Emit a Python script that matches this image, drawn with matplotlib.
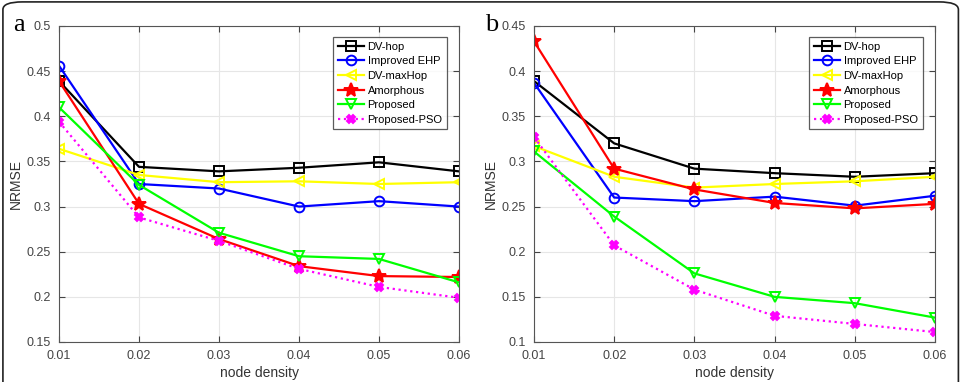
import matplotlib
matplotlib.use("Agg")
import matplotlib.pyplot as plt
from matplotlib.patches import FancyBboxPatch

plt.rcParams['font.family'] = ['Liberation Sans', 'DejaVu Sans']

# node density (x axis)
density = [0.01, 0.02, 0.03, 0.04, 0.05, 0.06]
x_ticks = ["0.01", "0.02", "0.03", "0.04", "0.05", "0.06"]

# panel a
a_dvhop = [0.439, 0.344, 0.339, 0.343, 0.349, 0.339]
a_ehp = [0.456, 0.325, 0.320, 0.300, 0.306, 0.300]
a_maxhop = [0.364, 0.335, 0.327, 0.328, 0.325, 0.327]
a_amorph = [0.439, 0.303, 0.264, 0.234, 0.223, 0.222]
a_prop = [0.410, 0.324, 0.271, 0.245, 0.242, 0.216]
a_pso = [0.394, 0.288, 0.262, 0.231, 0.211, 0.199]

# panel b
b_dvhop = [0.389, 0.320, 0.292, 0.287, 0.283, 0.287]
b_ehp = [0.387, 0.260, 0.256, 0.261, 0.251, 0.262]
b_maxhop = [0.317, 0.283, 0.271, 0.275, 0.278, 0.283]
b_amorph = [0.433, 0.292, 0.269, 0.254, 0.248, 0.253]
b_prop = [0.311, 0.239, 0.176, 0.150, 0.143, 0.127]
b_pso = [0.327, 0.207, 0.158, 0.129, 0.120, 0.111]

names = ["DV-hop", "Improved EHP", "DV-maxHop", "Amorphous", "Proposed", "Proposed-PSO"]
# color, marker, linestyle, marker size
styles = [("black", "s", "-", 6.5), ("blue", "o", "-", 7), ("#ffff00", "<", "-", 7),
          ("red", "*", "-", 10), ("#00ff00", "v", "-", 7), ("magenta", "X", ":", 6)]

fig = plt.figure(figsize=(9.73, 3.82), dpi=100)

# rounded frame round the whole figure
frame = FancyBboxPatch((0.003, -0.1), 0.982, 1.095, boxstyle="round,pad=0,rounding_size=0.02",
                       transform=fig.transFigure, fill=False, edgecolor="#222222", linewidth=1.2)
fig.patches.append(frame)

W, H = 973, 382
ax_a = fig.add_axes([59 / W, 1 - 342 / H, 400 / W, 316 / H])
ax_b = fig.add_axes([534 / W, 1 - 342 / H, 401 / W, 316 / H])

panels = [
    (ax_a, [a_dvhop, a_ehp, a_maxhop, a_amorph, a_prop, a_pso], (0.15, 0.5),
     [0.15, 0.2, 0.25, 0.3, 0.35, 0.4, 0.45, 0.5], "a", 13),
    (ax_b, [b_dvhop, b_ehp, b_maxhop, b_amorph, b_prop, b_pso], (0.1, 0.45),
     [0.1, 0.15, 0.2, 0.25, 0.3, 0.35, 0.4, 0.45], "b", 485),
]

for ax, series, ylim, yt, letter, lx in panels:
    for vals, name, (c, m, ls, ms) in zip(series, names, styles):
        ax.plot(density, vals, color=c, marker=m, linestyle=ls, linewidth=1.6,
                markersize=ms, markerfacecolor="none" if m not in ("*", "X") else c,
                markeredgewidth=1.4, label=name)
    ax.set_xlim(0.01, 0.06)
    ax.set_ylim(*ylim)
    ax.set_xticks(density)
    ax.set_xticklabels(x_ticks)
    ax.set_yticks(yt)
    ax.set_yticklabels([f"{v:g}" for v in yt])
    ax.grid(True, color="#e6e6e6", linewidth=0.8)
    ax.set_axisbelow(True)
    ax.tick_params(direction="in", top=True, right=True, labelsize=9,
                   colors="#444444", length=4)
    ax.tick_params(axis="y", pad=6)
    ax.tick_params(axis="x", pad=6)
    for s in ax.spines.values():
        s.set_color("#555555")
        s.set_linewidth(0.8)
    ax.set_xlabel("node density", fontsize=10, color="#333333", labelpad=3)
    ax.set_ylabel("NRMSE", fontsize=10, color="#333333")
    ax.yaxis.set_label_coords(-0.09, 0.5)
    leg = ax.legend(loc="upper right", fontsize=8, handlelength=2.4, handletextpad=0.3,
                    borderpad=0.4, labelspacing=0.42, fancybox=False,
                    bbox_to_anchor=(0.97, 0.965), borderaxespad=0)
    leg.get_frame().set_edgecolor("#333333")
    leg.get_frame().set_linewidth(0.9)
    fig.text(lx / W, 1 - 31 / H, letter, fontsize=19, family="Liberation Serif",
             ha="left", va="baseline")

fig.savefig("out.png", dpi=100)
